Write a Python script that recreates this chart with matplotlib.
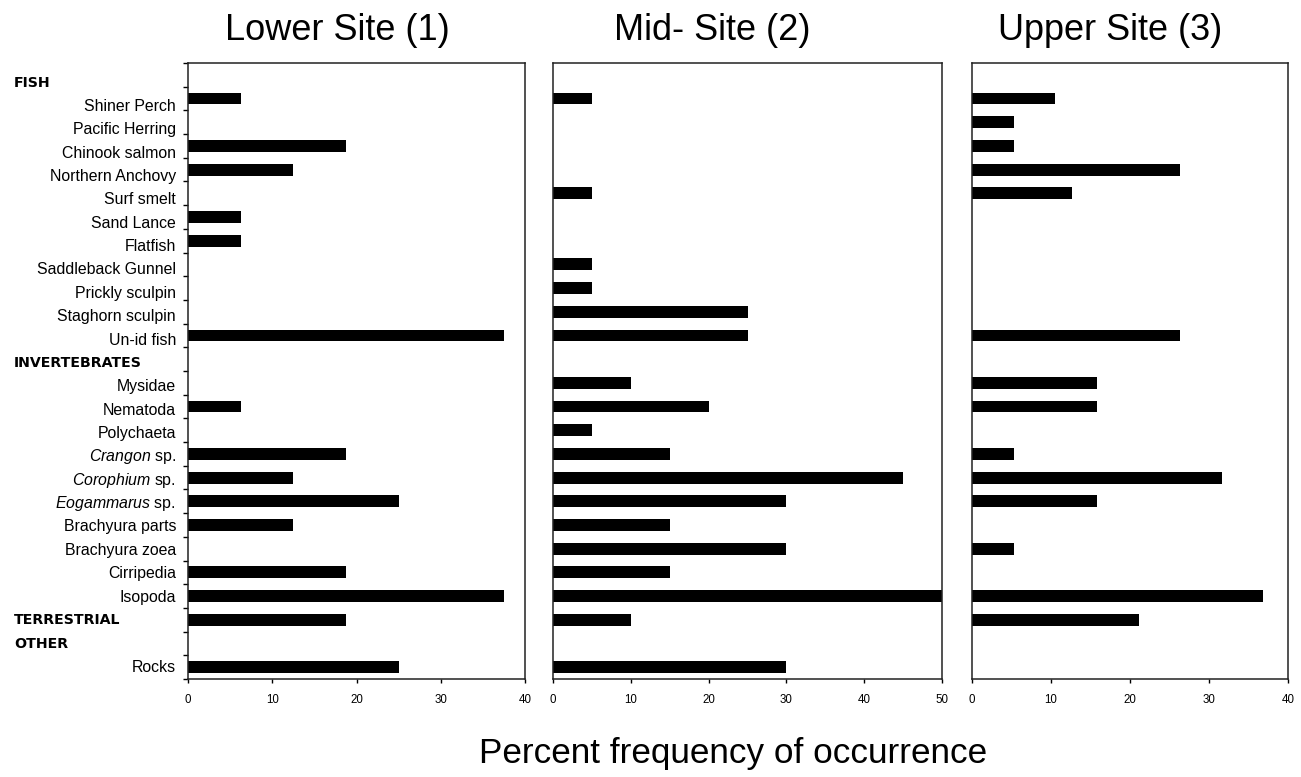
import matplotlib
matplotlib.use("Agg")
import matplotlib.pyplot as plt
from matplotlib.transforms import blended_transform_factory
from matplotlib.ticker import MultipleLocator, FixedLocator, NullLocator

plt.rcParams['font.family'] = ['Liberation Sans', 'DejaVu Sans']
plt.rcParams['mathtext.fontset'] = 'custom'
plt.rcParams['mathtext.rm'] = 'Liberation Sans'
plt.rcParams['mathtext.it'] = 'Liberation Sans:italic'

# ---------------- data ----------------
categories = ["FISH", "Shiner Perch", "Pacific Herring", "Chinook salmon", "Northern Anchovy",
              "Surf smelt", "Sand Lance", "Flatfish", "Saddleback Gunnel", "Prickly sculpin",
              "Staghorn sculpin", "Un-id fish", "INVERTEBRATES", "Mysidae", "Nematoda",
              "Polychaeta", r"$\mathit{Crangon}$ sp.", r"$\mathit{Corophium}$ sp.",
              r"$\mathit{Eogammarus}$ sp.", "Brachyura parts", "Brachyura zoea", "Cirripedia",
              "Isopoda", "TERRESTRIAL", "OTHER", "Rocks"]
headers = ["FISH", "INVERTEBRATES", "TERRESTRIAL", "OTHER"]

lower_site = [0, 6.25, 0, 18.75, 12.5, 0, 6.25, 6.25, 0, 0, 0, 37.5, 0, 0, 6.25, 0,
              18.75, 12.5, 25, 12.5, 0, 18.75, 37.5, 18.75, 0, 25]
mid_site = [0, 5, 0, 0, 0, 5, 0, 0, 5, 5, 25, 25, 0, 10, 20, 5,
            15, 45, 30, 15, 30, 15, 50, 10, 0, 30]
upper_site = [0, 10.5, 5.3, 5.3, 26.3, 12.6, 0, 0, 0, 0, 0, 26.3, 0, 15.8, 15.8, 0,
              5.3, 31.6, 15.8, 0, 5.3, 0, 36.8, 21.1, 0, 0]

site_titles = ["Lower Site (1)", "Mid- Site (2)", "Upper Site (3)"]
x_max = [40, 50, 40]
xlabel = "Percent frequency of occurrence"

# ---------------- figure ----------------
W, H = 1301, 777
fig = plt.figure(figsize=(W / 100, H / 100), dpi=100)

def fx(px):
    return px / W

def fy(py):
    return 1 - py / H

ax_top, ax_bot = 63, 679
panels_px = [(188, 525), (553, 942), (972, 1288)]
axes = []
n = len(categories)
ypos = list(range(n))
for (l, r), vals, xm in zip(panels_px, [lower_site, mid_site, upper_site], x_max):
    ax = fig.add_axes([fx(l), fy(ax_bot), (r - l) / W, (ax_bot - ax_top) / H])
    ax.barh(ypos, vals, height=0.5, color='black', edgecolor='none')
    ax.set_xlim(0, xm)
    ax.set_ylim(n - 0.5, -0.5)
    ax.xaxis.set_major_locator(MultipleLocator(10))
    ax.tick_params(axis='x', direction='out', length=3, width=1, labelsize=8.3, pad=8)
    ax.yaxis.set_major_locator(NullLocator())
    for s in ax.spines.values():
        s.set_linewidth(1.1)
        s.set_color('#222222')
    axes.append(ax)

ax1 = axes[0]
ax1.yaxis.set_minor_locator(FixedLocator([k - 0.5 for k in range(n + 1)]))
ax1.tick_params(axis='y', which='minor', direction='out', length=3.6, width=1)

# category labels
trans = blended_transform_factory(fig.transFigure, ax1.transData)
for k, lab in enumerate(categories):
    yy = 0.343 + k * (1 - 0.343 / 25)
    if lab in headers:
        ax1.text(fx(14), yy, lab, transform=trans, ha='left', va='center',
                 fontsize=10.2, fontweight='bold', family='DejaVu Sans')
    else:
        ax1.text(fx(176), yy, lab, transform=trans, ha='right', va='center',
                 fontsize=11.4)

# titles
for t, cx in zip(site_titles, [337, 712, 1110]):
    fig.text(fx(cx), fy(30), t, ha='center', va='center', fontsize=26)

fig.text(fx(733), fy(754), xlabel, ha='center', va='center', fontsize=25.3)

fig.savefig("out.png", dpi=100, facecolor='white')
